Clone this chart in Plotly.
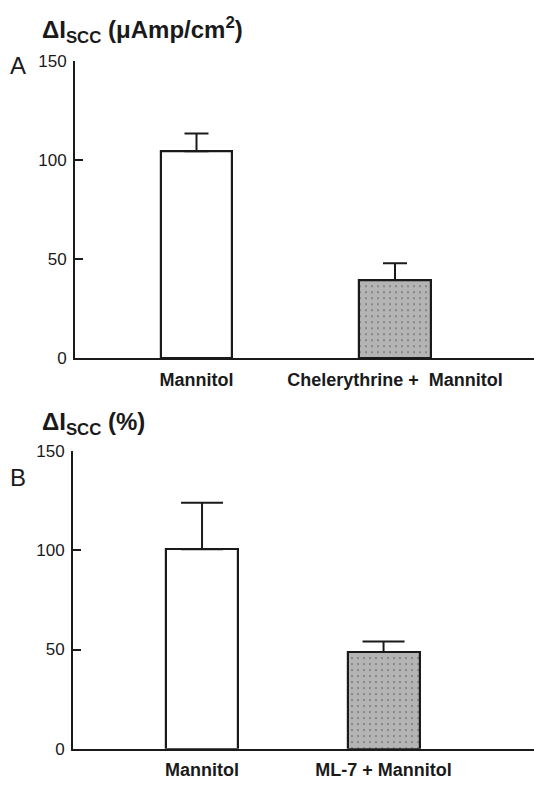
import plotly.graph_objects as go

# Panel A data
cats_a = ["Mannitol", "Chelerythrine +\u00a0 Mannitol"]
vals_a = [104.5, 39.5]
err_a = [9, 8.5]

# Panel B data
cats_b = ["Mannitol", "ML-7 + Mannitol"]
vals_b = [100.5, 48.7]
err_b = [23.5, 5.4]

yticks = [0, 50, 100, 150]

FONT = "Liberation Sans, Arial, Helvetica, sans-serif"
W, H = 534, 789

fills = ["white", "#b4b4b4"]
shapes_pat = ["", "."]

fig = go.Figure()

fig.add_trace(go.Bar(
    x=cats_a, y=vals_a, width=0.358,
    marker=dict(color=fills, line=dict(color="#1a1a1a", width=2.2),
                pattern=dict(shape=shapes_pat, fgcolor="#d8d8d8", bgcolor="#b4b4b4",
                             size=6, solidity=0.1, fillmode="overlay")),
    error_y=dict(type="data", array=err_a, arrayminus=[0, 0], symmetric=False,
                 color="#1a1a1a", thickness=2, width=12),
    xaxis="x", yaxis="y", showlegend=False,
))

fig.add_trace(go.Bar(
    x=cats_b, y=vals_b, width=0.397,
    marker=dict(color=fills, line=dict(color="#1a1a1a", width=2.2),
                pattern=dict(shape=shapes_pat, fgcolor="#d8d8d8", bgcolor="#b4b4b4",
                             size=6, solidity=0.1, fillmode="overlay")),
    error_y=dict(type="data", array=err_b, arrayminus=[0, 0], symmetric=False,
                 color="#1a1a1a", thickness=2, width=21),
    xaxis="x2", yaxis="y2", showlegend=False,
))

def yax(domain, anchor):
    return dict(domain=domain, anchor=anchor, range=[0, 150], tickvals=yticks,
                ticks="inside", ticklen=8, tickwidth=2, tickcolor="#1a1a1a",
                showline=True, linewidth=2, linecolor="#1a1a1a",
                showgrid=False, zeroline=False,
                tickfont=dict(family=FONT, size=17, color="#1a1a1a"),
                ticklabelstandoff=3)

def xax(domain, anchor, rng):
    return dict(domain=domain, anchor=anchor, type="category", range=rng,
                showline=True, linewidth=2, linecolor="#1a1a1a",
                ticks="", showgrid=False, zeroline=False,
                tickfont=dict(family=FONT, size=18, color="#1a1a1a", weight="bold"),
                ticklabelstandoff=4)

fig.update_layout(
    width=W, height=H,
    margin=dict(l=0, r=0, t=0, b=0),
    paper_bgcolor="white", plot_bgcolor="white",
    xaxis=xax([75 / W, 1], "y", [-0.612, 1.700]),
    yaxis=yax([1 - 358 / H, 1 - 53.5 / H], "x"),
    xaxis2=xax([73 / W, 1], "y2", [-0.711, 1.829]),
    yaxis2=yax([1 - 758 / H, 1 - 453 / H], "x2"),
    bargap=0,
)

annots = [
    dict(text="<b>ΔI<sub>SCC</sub> (μAmp/cm<sup>2</sup>)</b>", x=40 / W, y=1 - 22 / H, size=24),
    dict(text="A", x=8 / W, y=1 - 58 / H, size=24),
    dict(text="<b>ΔI<sub>SCC</sub> (%)</b>", x=40 / W, y=1 - 425 / H, size=24),
    dict(text="B", x=8 / W, y=1 - 480 / H, size=24),
]
for a in annots:
    fig.add_annotation(text=a["text"], x=a["x"], y=a["y"], xref="paper", yref="paper",
                       xanchor="left", yanchor="middle", showarrow=False,
                       font=dict(family=FONT, size=a["size"], color="#1a1a1a"))

fig.write_html("out.html")
